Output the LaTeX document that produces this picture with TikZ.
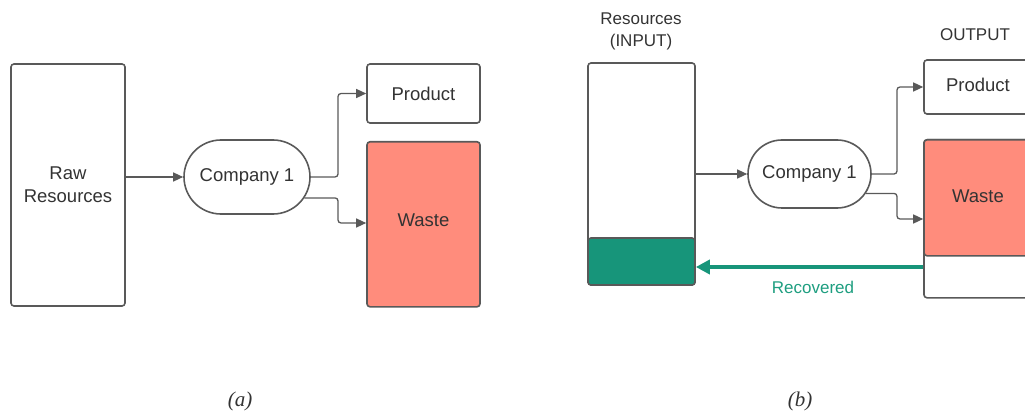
\documentclass[tikz,border=0pt]{standalone}
\usepackage{fontspec}
\setmainfont{Liberation Sans}
\newfontfamily\capfont{Liberation Serif}
\usetikzlibrary{shapes.misc,arrows.meta}
\definecolor{txt}{HTML}{333333}
\definecolor{edge}{HTML}{595959}
\definecolor{salmon}{HTML}{FF8C7C}
\definecolor{recgreen}{HTML}{17957A}
\definecolor{tealtxt}{HTML}{1E9E80}
\tikzset{
  boxs/.style={draw=edge, line width=1.6pt, rounded corners=3pt, fill=white, inner sep=0pt, align=center, text=txt, font=\fontsize{18.5}{23}\selectfont},
  pill/.style={draw=edge, line width=1.6pt, rounded rectangle, fill=white, inner sep=0pt, text=txt, font=\fontsize{18.5}{23}\selectfont},
  conn/.style={draw=edge, line width=1.3pt, rounded corners=3pt, -{Triangle[length=10pt,width=9pt]}},
  lbl/.style={text=txt, align=center, font=\fontsize{17}{22}\selectfont},
  figcap/.style={text=txt, font=\capfont\itshape\fontsize{21}{24}\selectfont}
}
\begin{document}
\begin{tikzpicture}[x=1pt,y=-1pt]
\useasboundingbox (0,0) rectangle (1025,414);
\clip (0,0) rectangle (1025,414);
% ---- panel (a)
\node[boxs, minimum width=114pt, minimum height=242pt] (raw) at (68,185) {Raw\\Resources};
\node[pill, minimum width=126pt, minimum height=74pt] (ca) at (247,177) {Company 1};
\node[boxs, minimum width=113pt, minimum height=59pt] (pa) at (423.5,93.5) {Product};
\node[boxs, fill=salmon, minimum width=113pt, minimum height=165pt, anchor=north] (wa) at (423.5,141) {};
\node[text=txt, font=\fontsize{18.5}{23}\selectfont] (wal) at (423.5,220) {Waste};
\coordinate (xa) at (338,0);
\draw[conn] (raw.east |- ca.west) -- (ca.west);
\draw[conn] (ca.east) -- (ca.east -| xa) |- (pa.west);
\coordinate (wain) at (wa.west |- 0,223);
\draw[conn] (ca.-20) -- (ca.-20 -| xa) |- (wain);
\node[figcap] (capa) at (240,401) {(a)};
% ---- panel (b)
\node[boxs, minimum width=107pt, minimum height=222pt] (inb) at (641.5,174) {};
\node[boxs, fill=recgreen, minimum width=107pt, minimum height=47pt] (rec) at (641.5,261.5) {};
\node[lbl] (inl) at (641,31) {Resources\\(INPUT)};
\node[pill, minimum width=123pt, minimum height=68pt] (cb) at (809.5,174) {Company 1};
\node[lbl] (outl) at (975,35) {OUTPUT};
\node[boxs, minimum width=114pt, minimum height=54pt] (pb) at (981,87) {};
\node[text=txt, font=\fontsize{18.5}{23}\selectfont] (pbl) at (978,85) {Product};
\node[boxs, minimum width=114pt, minimum height=158pt, anchor=north] (wbo) at (981,139) {};
\node[boxs, fill=salmon, minimum width=114pt, minimum height=116pt, anchor=north] (wb) at (981,139) {};
\node[text=txt, font=\fontsize{18.5}{23}\selectfont] (wbl) at (978,196) {Waste};
\coordinate (xb) at (897,0);
\draw[conn] (inb.east |- cb.west) -- (cb.west);
\draw[conn] (cb.east) -- (cb.east -| xb) |- (pb.west);
\coordinate (wbin) at (wb.west |- 0,219);
\draw[conn] (cb.-19) -- (cb.-19 -| xb) |- (wbin);
\coordinate (rstart) at (wbo.west |- 0,267);
\coordinate (rend) at (rec.east |- 0,267);
\draw[draw=recgreen, line width=3.6pt, -{Triangle[length=14pt,width=14pt]}] (rstart) -- (rend);
\node[text=tealtxt, font=\fontsize{17}{22}\selectfont] (recl) at (813,287) {Recovered};
\node[figcap] (capb) at (800,401) {(b)};
\end{tikzpicture}
\end{document}
